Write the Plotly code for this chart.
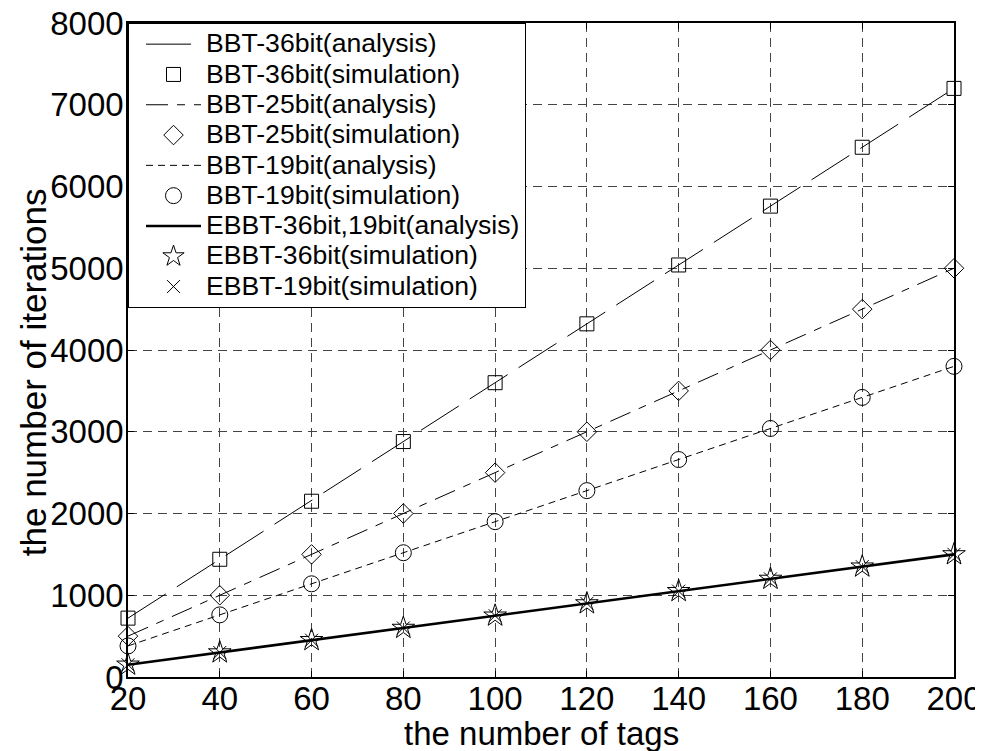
import plotly.graph_objects as go

tags = [20, 40, 60, 80, 100, 120, 140, 160, 180, 200]
bbt36_analysis = [720, 1440, 2160, 2880, 3600, 4320, 5040, 5760, 6480, 7200]
bbt36_sim = [720, 1440, 2150, 2880, 3600, 4320, 5040, 5760, 6480, 7200]
bbt25_analysis = [500, 1000, 1500, 2000, 2500, 3000, 3500, 4000, 4500, 5000]
bbt25_sim = [500, 1000, 1500, 2000, 2500, 3000, 3500, 4000, 4500, 5000]
bbt19_analysis = [380, 760, 1140, 1520, 1900, 2280, 2660, 3040, 3420, 3800]
bbt19_sim = [380, 760, 1140, 1520, 1900, 2280, 2660, 3040, 3420, 3800]
ebbt_analysis = [150, 300, 450, 600, 750, 900, 1050, 1200, 1350, 1500]
ebbt36_sim = [150, 300, 450, 600, 750, 900, 1050, 1200, 1350, 1500]
ebbt19_sim = [150, 300, 450, 600, 750, 900, 1050, 1200, 1350, 1500]

x_ticks = [20, 40, 60, 80, 100, 120, 140, 160, 180, 200]
y_ticks = [0, 1000, 2000, 3000, 4000, 5000, 6000, 7000, 8000]

x_title = "the number of tags"
y_title = "the number of iterations"

fig = go.Figure()

def legend_name(name):
    return '<span style="font-size:26.6px">' + name + '</span>'

def line(name, y, dash, width=1.0):
    fig.add_trace(go.Scatter(x=tags, y=y, name=legend_name(name), mode="lines",
                             line=dict(color="black", width=width, dash=dash),
                             cliponaxis=False))

def mark(name, y, symbol, size):
    fig.add_trace(go.Scatter(x=tags, y=y, name=legend_name(name), mode="markers",
                             marker=dict(symbol=symbol, size=size, color="black",
                                         line=dict(color="black", width=1)),
                             cliponaxis=False))

line("BBT-36bit(analysis)", bbt36_analysis, "45px,13px")
mark("BBT-36bit(simulation)", bbt36_sim, "square-open", 14)
line("BBT-25bit(analysis)", bbt25_analysis, "22px,9px,8px,9px")
mark("BBT-25bit(simulation)", bbt25_sim, "diamond-open", 15)
line("BBT-19bit(analysis)", bbt19_analysis, "7px,5px")
mark("BBT-19bit(simulation)", bbt19_sim, "circle-open", 16)
line("EBBT-36bit,19bit(analysis)", ebbt_analysis, "solid", 2.6)
mark("EBBT-36bit(simulation)", ebbt36_sim, "star-open", 17)
mark("EBBT-19bit(simulation)", ebbt19_sim, "x-thin-open", 13)

axis_common = dict(
    showline=True, linecolor="black", linewidth=1.5, mirror="allticks",
    ticks="inside", ticklen=6, tickcolor="black", tickwidth=1,
    showgrid=True, gridcolor="#444444", gridwidth=1, griddash="9px,6px",
    zeroline=False, tickfont=dict(size=33, color="black"),
    automargin=False, ticklabeloverflow="allow",
)

fig.update_xaxes(range=[20, 200], tickvals=x_ticks, ticktext=[str(v) for v in x_ticks],
                 ticklabelstandoff=-8, **axis_common)
fig.update_yaxes(range=[0, 8000], tickvals=y_ticks, ticktext=[str(v) for v in y_ticks],
                 ticklabelstandoff=-4, **axis_common)

fig.add_annotation(text=x_title, xref="paper", yref="paper", x=0.5, y=-0.087,
                   xanchor="center", yanchor="middle", showarrow=False,
                   font=dict(size=33, color="black"))
fig.add_annotation(text=y_title, xref="paper", yref="paper", x=-0.115, y=0.466,
                   xanchor="center", yanchor="middle", showarrow=False, textangle=-90,
                   font=dict(size=35, color="black"))

fig.update_layout(
    width=975, height=743,
    margin=dict(l=120, r=29, t=15, b=74),
    paper_bgcolor="white", plot_bgcolor="white",
    font=dict(family="Liberation Sans, Arial, sans-serif", color="black"),
    showlegend=True,
    legend=dict(x=0, y=1, xanchor="left", yanchor="top",
                bgcolor="white", bordercolor="black", borderwidth=1,
                font=dict(size=21, color="black"),
                traceorder="normal", itemwidth=55, indentation=12),
)

fig.write_html("out.html")
